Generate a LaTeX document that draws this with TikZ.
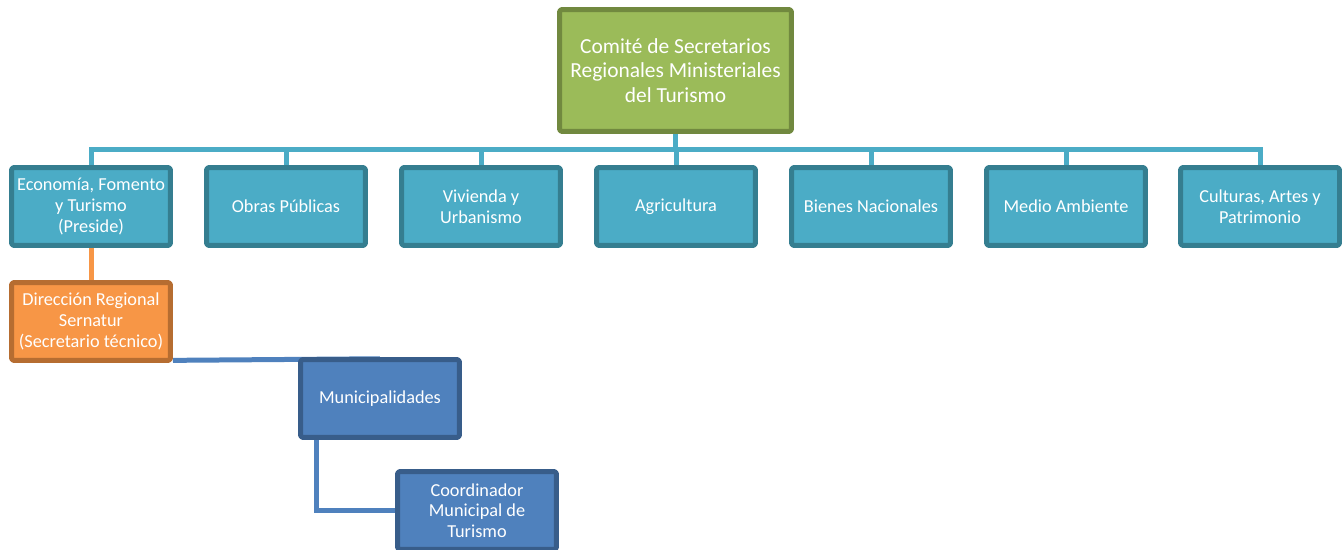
\documentclass[tikz,border=0pt]{standalone}
\usepackage{fontspec}
\setmainfont{Carlito}
\usepackage{tikz}
\usetikzlibrary{backgrounds}

\definecolor{greenfill}{HTML}{9BBB59}
\definecolor{greenline}{HTML}{71893F}
\definecolor{tealfill}{HTML}{4BACC6}
\definecolor{tealline}{HTML}{357E90}
\definecolor{orangefill}{HTML}{F79646}
\definecolor{orangeline}{HTML}{B66D31}
\definecolor{bluefill}{HTML}{4F81BD}
\definecolor{blueline}{HTML}{385D8A}

\begin{document}
\begin{tikzpicture}[
                      x=0.02cm, y=-0.02cm,
                      line join=round,
                  ]
                  \tikzset{
                      box/.style = {draw, line width=0.1cm, rounded corners=1.5pt, text=white, align=center,
                                    minimum width=3.18cm, minimum height=1.56cm, inner sep=1pt,
                                    font=\fontsize{10.4}{11.8}\selectfont},
                      box_top/.style = {box, fill=greenfill, draw=greenline, minimum width=4.64cm,
                                        minimum height=2.44cm, font=\fontsize{12.2}{13.8}\selectfont},
                      box_sec/.style = {box, fill=tealfill, draw=tealline},
                      box_dir/.style = {box, fill=orangefill, draw=orangeline},
                      box_mun/.style = {box, fill=bluefill, draw=blueline},
                      conn_teal/.style = {line width=0.1cm, tealfill},
                      conn_orange/.style = {line width=0.1cm, orangefill},
                      conn_blue/.style = {line width=0.1cm, bluefill},
                  }

                  \useasboundingbox (0,0) rectangle (1342,550);

                  % Committee
                  \node[box_top] (comite) at (675.5,70.5) {Comité de Secretarios\\Regionales Ministeriales\\del Turismo};

                  % Regional secretaries
                  \node[box_sec] (economia) at (91,206.5) {Economía, Fomento\\y Turismo\\(Preside)};
                  \node[box_sec] (obras) at (286,206.5) {Obras Públicas};
                  \node[box_sec] (vivienda) at (481,206.5) {Vivienda y\\Urbanismo};
                  \node[box_sec] (agricultura) at (676,206.5) {Agricultura};
                  \node[box_sec] (bienes) at (871,206.5) {Bienes Nacionales};
                  \node[box_sec] (ambiente) at (1066,206.5) {Medio Ambiente};
                  \node[box_sec] (culturas) at (1260,206.5) {Culturas, Artes y\\Patrimonio};

                  % Sernatur and municipal level
                  \node[box_dir] (direccion) at (91,321.5) {Dirección Regional\\Sernatur\\(Secretario técnico)};
                  \node[box_mun] (muni) at (380,398.5) {Municipalidades};
                  \node[box_mun] (coordinador) at (477,510.5) {Coordinador\\Municipal de\\Turismo};

                  \begin{scope}[on background layer]
                      % Bus
                      \coordinate (bus) at (675.5,150);
                      \draw[conn_teal] (comite.south) -- (bus);
                      \draw[conn_teal] (economia.north) |- (bus) -| (culturas.north);
                      \draw[conn_teal] (obras.north) -- (obras.north |- bus);
                      \draw[conn_teal] (vivienda.north) -- (vivienda.north |- bus);
                      \draw[conn_teal] (agricultura.north) -- (agricultura.north |- bus);
                      \draw[conn_teal] (bienes.north) -- (bienes.north |- bus);
                      \draw[conn_teal] (ambiente.north) -- (ambiente.north |- bus);

                      % Lower links
                      \draw[conn_orange] (economia.south) -- (direccion.north);
                      \draw[conn_blue] ([yshift=1.5pt]direccion.south east) -- ([yshift=-1pt]muni.north);
                      \draw[conn_blue] ([xshift=0.36cm]muni.south west) |- (coordinador.west);
                  \end{scope}

              \end{tikzpicture}
\end{document}
